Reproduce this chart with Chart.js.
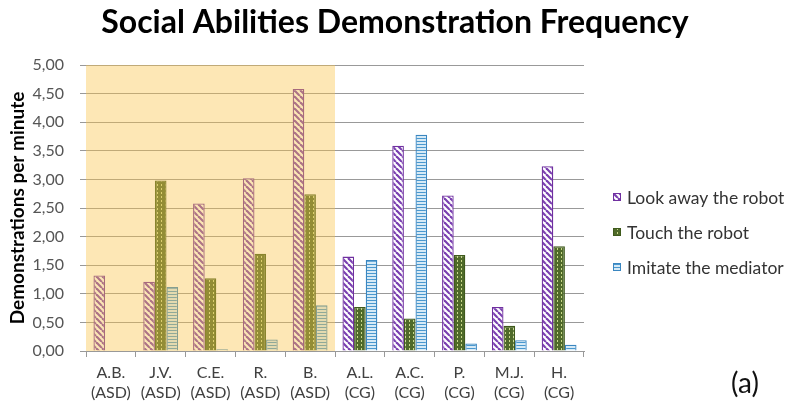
<!DOCTYPE html>
<html><head><meta charset="utf-8">
<script src="https://cdn.jsdelivr.net/npm/chart.js@4"></script>
<style>html,body{margin:0;padding:0;background:#fff}#wrap{width:794px;height:409px;position:relative}</style>
</head><body><div id="wrap"><canvas id="c"></canvas></div>
<script>
const categories = [["A.B.","(ASD)"],["J.V.","(ASD)"],["C.E.","(ASD)"],["R.","(ASD)"],["B.","(ASD)"],["A.L.","(CG)"],["A.C.","(CG)"],["P.","(CG)"],["M.J.","(CG)"],["H.","(CG)"]];
const seriesNames = ["Look away the robot","Touch the robot","Imitate the mediator"];
const lookAway = [1.32,1.21,2.58,3.02,4.58,1.65,3.59,2.72,0.77,3.23];
const touchRobot = [0,2.98,1.27,1.70,2.74,0.77,0.57,1.68,0.44,1.83];
const imitateMediator = [0,1.12,0.03,0.20,0.80,1.59,3.78,0.13,0.19,0.11];
const yMin = 0, yMax = 5, yStep = 0.5;
const asdCount = 5;
const chartTitle = "Social Abilities Demonstration Frequency";
const panelLabel = "(a)";

function makePattern(kind){
  const cv = document.createElement('canvas');
  const g = cv.getContext('2d');
  if(kind==='diag'){
    const s = 6; cv.width = s; cv.height = s;
    g.fillStyle='#ffffff'; g.fillRect(0,0,s,s);
    g.strokeStyle='#7a3fb0'; g.lineWidth=2.2;
    for(let k=-s;k<=s*2;k+=s){ g.beginPath(); g.moveTo(k,0); g.lineTo(k+s,s); g.stroke(); }
  } else if(kind==='dots'){
    cv.width=4; cv.height=4;
    g.fillStyle='#4f6a2a'; g.fillRect(0,0,4,4);
    g.fillStyle='#c9d88a'; g.fillRect(1,0,1,2);
  } else {
    cv.width=4; cv.height=3;
    g.fillStyle='#d6eaf6'; g.fillRect(0,0,4,3);
    g.fillStyle='#4a98cf'; g.fillRect(0,0,4,1);
  }
  return document.getElementById('c').getContext('2d').createPattern(cv,'repeat');
}
const fills = [makePattern('diag'), makePattern('dots'), makePattern('hstripe')];
const borders = ['#7030a0','#3f5a1c','#3a86c0'];

const overlay = {
  id:'overlay',
  afterDatasetsDraw(chart){
    const {ctx, chartArea, scales} = chart;
    const x = scales.x;
    const left = chartArea.left;
    const right = x.getPixelForValue(asdCount-1) + (x.getPixelForValue(1)-x.getPixelForValue(0))/2;
    ctx.save();
    ctx.fillStyle='rgba(250,195,70,0.40)';
    ctx.fillRect(left, chartArea.top, right-left, chartArea.bottom-chartArea.top);
    ctx.restore();
  },
  afterDraw(chart){
    const ctx = chart.ctx;
    ctx.save();
    // title
    ctx.font = 'bold 32px Lato';
    ctx.fillStyle = '#000';
    ctx.textAlign = 'center'; ctx.textBaseline = 'middle';
    ctx.fillText(chartTitle, 395, 23);
    // legend
    const lx = 613, ly0 = 197, dy = 35, bs = 8;
    ctx.font = '17.5px Lato';
    ctx.textBaseline = 'middle'; ctx.textAlign = 'left';
    seriesNames.forEach((name,i)=>{
      const y = ly0 + i*dy;
      ctx.fillStyle = fills[i];
      ctx.fillRect(lx, y-bs/2, bs, bs);
      ctx.strokeStyle = borders[i]; ctx.lineWidth = 1;
      ctx.strokeRect(lx+0.5, y-bs/2+0.5, bs-1, bs-1);
      ctx.fillStyle = '#333';
      ctx.fillText(name, lx+bs+6, y+1);
    });
    ctx.font = '28px Lato';
    ctx.fillStyle = '#111';
    ctx.textAlign='center'; ctx.textBaseline='middle';
    ctx.fillText(panelLabel, 745, 384);
    ctx.restore();
  }
};

new Chart(document.getElementById('c'), {
  type:'bar',
  data:{
    labels: categories,
    datasets: [lookAway, touchRobot, imitateMediator].map((d,i)=>({
      label: seriesNames[i], data: d,
      backgroundColor: fills[i], borderColor: borders[i], borderWidth: 1.3,
      categoryPercentage: 0.7, barPercentage: 1.0
    }))
  },
  plugins:[overlay],
  options:{
    responsive:true, maintainAspectRatio:false, animation:false,
    layout:{padding:{left:0,right:210,top:65,bottom:0}},
    plugins:{
      title:{display:false},
      legend:{display:false},
      tooltip:{enabled:false}
    },
    scales:{
      x:{ offset:true,
        grid:{display:true, drawOnChartArea:false, offset:true, tickLength:6, color:'#999'},
        border:{display:true, color:'#999'},
        ticks:{font:{family:'Lato', size:16, lineHeight:1.25}, color:'#404040', maxRotation:0, autoSkip:false, padding:6}},
      y:{ min:yMin, max:yMax,
        afterFit(scale){ scale.width = 86; },
        grid:{color:'#999', tickLength:6},
        border:{display:false},
        title:{display:true, text:'Demonstrations per minute', color:'#000', font:{family:'Lato', size:19, weight:'bold'}, padding:{top:6,bottom:4}},
        ticks:{stepSize:yStep, font:{family:'Lato', size:16}, color:'#555', padding:16,
          callback:(v)=>Number(v).toFixed(2).replace('.',',')}}
    }
  }
});
</script></body></html>
